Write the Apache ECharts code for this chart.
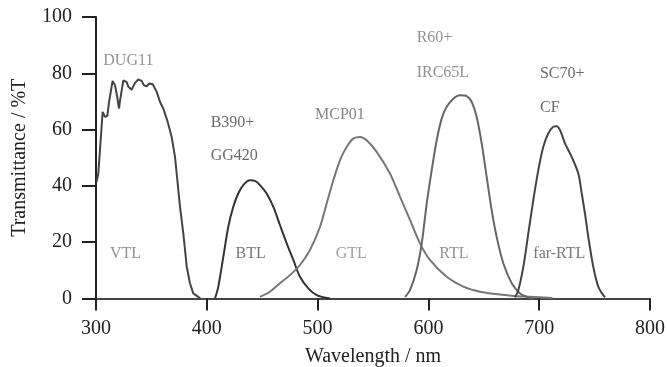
<!DOCTYPE html>
<html>
<head>
<meta charset="utf-8">
<script src="https://cdn.jsdelivr.net/npm/echarts@6/dist/echarts.min.js"></script>
<style>
  html, body { margin: 0; padding: 0; background: #fff; }
  #chart { width: 667px; height: 367px; }
</style>
</head>
<body>
<div id="chart"></div>
<script>
// transmittance curves, [wavelength nm, %T]
const dug11 = [
  [300.6, 41.5], [302.1, 44.4], [306, 66.3], [308.1, 64.5], [310.2, 64.8], [312, 70.4],
  [315, 77.3], [317.1, 75.8], [318.6, 72.8], [320.8, 67.5], [321.7, 70.4], [324.7, 77.5],
  [327.7, 76.9], [329.2, 75.2], [332.2, 74.2], [335.2, 76.6], [338.2, 77.8], [341.2, 77.3],
  [343.3, 75.7], [345.7, 75.4], [348.1, 76.4], [351.2, 76.1], [354.8, 73.4], [357.8, 69.8],
  [360.7, 67.5], [364.3, 63.3], [368.3, 57.4], [371.3, 50.3], [373.4, 42.1], [375.8, 32.6],
  [378.8, 23.1], [381.9, 11.3], [384.8, 5.4], [387.8, 1.8], [392.3, 0.6], [394, 0]
];
const btl = [
  [407.4, 0], [410.4, 4.2], [414.9, 14.8], [419.4, 25.5], [423.9, 32.6], [428.4, 37.3],
  [432.9, 40.3], [439, 42], [443.5, 41.8], [448, 40.3], [454, 37.3], [460, 32.6],
  [466, 26.1], [472.1, 19.6], [478.1, 13.7], [484.1, 7.7], [491.6, 3.6], [499.2, 1.2], [511.2, 0]
];
const mcp01 = [
  [448, 0.6], [457, 2.4], [466, 5.4], [475.1, 8.3], [484.1, 11.9], [493.1, 17.2],
  [502.2, 25.5], [508.2, 33.8], [514.2, 42], [520.2, 49.1], [526.3, 53.9], [532.2, 56.8],
  [538.3, 57.4], [544.3, 56.2], [553.3, 52.1], [565.3, 44.4], [574.4, 36.1], [583.4, 27.9],
  [592.4, 19.6], [601.4, 13.7], [616.5, 7.7], [631.5, 4.2], [646.6, 2.4], [664.6, 1.4],
  [676.6, 0.9], [691.7, 0.6], [712, 0.2]
];
const rtl = [
  [578.9, 0.6], [583.4, 3], [589.4, 10.1], [594, 19.6], [598.5, 33.8], [603, 45.6],
  [607.5, 56.2], [612, 63.9], [616.5, 68.1], [622.5, 71], [628.5, 72.2], [634.6, 71.9],
  [639.1, 69.8], [643.6, 64.5], [648.1, 55.1], [652.6, 43.2], [657.1, 31.4], [661.6, 21.9],
  [667.6, 12.5], [675.2, 5.4], [682.7, 1.8], [688.7, 0.6], [694.7, 0]
];
const farRtl = [
  [678.2, 0.4], [681.2, 3], [685.7, 11.3], [690.2, 23.1], [694.7, 35], [699.2, 45.6],
  [703.7, 53.9], [708.2, 58.6], [712.7, 61], [715.8, 61.2], [718.8, 59.8], [723.3, 55.1],
  [729.3, 50.3], [735.3, 44.4], [738.4, 37.3], [741.3, 30.2], [744.3, 21.9], [748.8, 11.3],
  [753.3, 4.2], [759.4, 0.4]
];

// annotations: text and anchor (left edge, vertical middle) in data units
const labelTexts = ['DUG11', 'VTL', 'B390+', 'GG420', 'BTL', 'MCP01', 'GTL',
  'R60+', 'IRC65L', 'RTL', 'SC70+', 'CF', 'far-RTL'];
const labelX = [306.6, 312.6, 403.5, 403.5, 426, 497.7, 516.3, 589.4, 589.4, 609.8, 700.7, 700.7, 694.7];
const labelY = [84.6, 16, 62.4, 50.6, 15.8, 65.1, 15.8, 92.7, 80.3, 15.8, 79.9, 67.8, 16];

const xTicks = [300, 400, 500, 600, 700, 800];
const yTicks = [0, 20, 40, 60, 80, 100];

const labelColors = ['#777', '#777', '#444', '#444', '#555', '#666', '#888',
  '#777', '#777', '#777', '#444', '#444', '#555'];
const serif = '"Liberation Serif", "DejaVu Serif", serif';

const chart = echarts.init(document.getElementById('chart'));

function curve(name, data, color, smooth) {
  return {
    name: name,
    type: 'line',
    data: data,
    showSymbol: false,
    symbol: 'none',
    smooth: smooth,
    lineStyle: { color: color, width: 2 },
    z: 3
  };
}

const option = {
  animation: false,
  backgroundColor: '#fff',
  textStyle: { fontFamily: serif },
  grid: { left: 96, right: 17, top: 17, bottom: 68.5, containLabel: false, outerBoundsMode: 'none' },
  xAxis: {
    type: 'value',
    min: xTicks[0],
    max: xTicks[xTicks.length - 1],
    interval: 100,
    name: 'Wavelength / nm',
    nameLocation: 'middle',
    nameGap: 48,
    nameTextStyle: { fontSize: 20, color: '#222', fontFamily: serif },
    axisLine: { lineStyle: { color: '#444', width: 2 } },
    axisTick: { show: true, length: 12, lineStyle: { color: '#222', width: 2 } },
    axisLabel: { fontSize: 20, color: '#222', margin: 20, fontFamily: serif },
    splitLine: { show: false }
  },
  yAxis: {
    type: 'value',
    min: yTicks[0],
    max: yTicks[yTicks.length - 1],
    interval: 20,
    name: 'Transmittance / %T',
    nameLocation: 'middle',
    nameGap: 66,
    nameTextStyle: { fontSize: 20, color: '#222', fontFamily: serif },
    axisLine: { show: true, lineStyle: { color: '#222', width: 2 } },
    axisTick: { show: true, length: 14, lineStyle: { color: '#222', width: 2 } },
    axisLabel: { fontSize: 20, color: '#222', margin: 24, fontFamily: serif },
    splitLine: { show: false }
  },
  series: [
    curve('DUG11', dug11, '#444', false),
    curve('B390+GG420', btl, '#333', 0.3),
    curve('MCP01', mcp01, '#777', 0.3),
    curve('R60+IRC65L', rtl, '#666', 0.3),
    curve('SC70+CF', farRtl, '#444', 0.3),
    {
      name: 'labels',
      type: 'scatter',
      symbolSize: 0,
      silent: true,
      z: 4,
      data: labelTexts.map((t, i) => ({
        name: t,
        value: [labelX[i], labelY[i]],
        label: { color: labelColors[i] }
      })),
      label: {
        show: true,
        position: [0, 0],
        align: 'left',
        verticalAlign: 'middle',
        fontSize: 16,
        fontFamily: serif,
        formatter: p => p.name
      }
    }
  ]
};

chart.setOption(option);
</script>
</body>
</html>
